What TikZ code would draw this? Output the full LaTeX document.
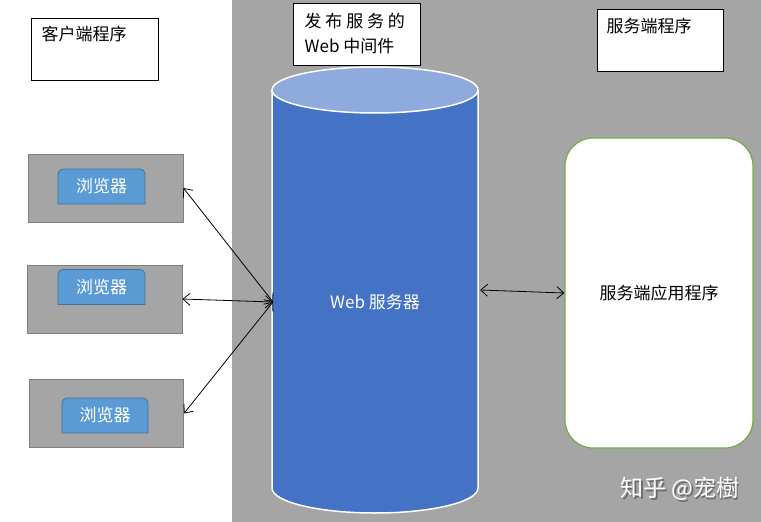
\documentclass[tikz,border=0pt]{standalone}
\usepackage{fontspec}
\setmainfont{Noto Sans CJK SC}
\usepackage{xcolor}
\usetikzlibrary{arrows.meta,positioning,calc}
\definecolor{bggray}{HTML}{A5A5A5}
\definecolor{boxedge}{HTML}{7F7F7F}
\definecolor{cylblue}{HTML}{4472C4}
\definecolor{cyltop}{HTML}{8FAADC}
\definecolor{brblue}{HTML}{5B9BD5}
\definecolor{bredge}{HTML}{41719C}
\definecolor{appgreen}{HTML}{70AD47}
\definecolor{wmshade}{HTML}{6A6A6A}
\tikzset{>={Straight Barb[length=7pt,width=12pt]}}
\tikzset{
  lbl/.style={inner sep=0pt, font=\fontsize{17}{25}\selectfont},
  labelbox/.style={draw=black, fill=white, line width=1pt, minimum width=127pt, minimum height=62pt, inner sep=0pt},
  pcbox/.style={draw=boxedge, fill=bggray, line width=0.8pt, minimum width=155pt, minimum height=68pt, inner sep=0pt},
  brshape/.style={draw=bredge, fill=brblue, line width=0.8pt},
  appbox/.style={lbl, draw=appgreen, fill=white, line width=1.2pt, rounded corners=28pt, minimum width=188pt, minimum height=310pt},
  wmtext/.style={inner sep=0pt, font=\fontsize{23}{27}\selectfont},
  link/.style={<->, line width=0.8pt},
}

\begin{document}
\begin{tikzpicture}[x=1pt,y=1pt]
  \useasboundingbox (0,0) rectangle (761,-522);
  % Background
  \fill[bggray] (232,0) rectangle (761,-522);

  % Titles
  \node[labelbox] (client) at (94.5,-49) {};
  \node[lbl, anchor=west] (clienttxt) at ([shift={(11,-17)}]client.north west) {客户端程序};
  \node[labelbox] (midbox) at (356.5,-34) {};
  \node[lbl, anchor=west, align=left] (midtxt) at ([xshift=12]midbox.west) {发 布 服 务 的\\Web 中间件};
  \node[labelbox, minimum width=126pt] (server) at (660,-40) {};
  \node[lbl, anchor=west] (servertxt) at ([shift={(10,-18)}]server.north west) {服务端程序};

  % Cylinder
  \fill[cylblue] (272,-90) rectangle (478,-488);
  \fill[cylblue] (375,-488) ellipse (103 and 25);
  \draw[white, line width=1.5pt] (272,-90) -- (272,-488) arc[start angle=180, end angle=360, x radius=103, y radius=25] -- (478,-90);
  \draw[white, line width=1.5pt, fill=cyltop] (375,-90) ellipse (103 and 23);
  \node[lbl, text=white] (websrv) at (375,-302) {Web 服务器};
  \coordinate (hub) at (273,-302);
  \coordinate (webport) at (480,-290);

  % Browsers
  \foreach \i/\cx/\cy/\bx/\by/\w in {1/105.5/-188/101.5/-186.5/87, 2/104.5/-299/101.5/-287/87, 3/106.5/-413.5/105/-415.5/86} {
    \node[pcbox, minimum width=\w pt+68pt] (pc\i) at (\cx,\cy) {};
    \draw[brshape] (\bx-\w/2,\by-17.5) -- (\bx-\w/2,\by+12.5) arc[start angle=180, end angle=90, radius=5] -- (\bx+\w/2-5,\by+17.5) arc[start angle=90, end angle=0, radius=5] -- (\bx+\w/2,\by-17.5) -- cycle;
    \node[lbl, text=white] (br\i) at (\bx,\by) {浏览器};
  }

  % Server application
  \node[appbox] (app) at (659,-293) {服务端应用程序};

  % Links
  \draw[link] (pc1.east) -- (hub);
  \draw[link] (pc2.east) -- (hub);
  \draw[link] (pc3.east) -- (hub);
  \draw[link] (webport) -- (app.west);

  % Watermark
  \node[wmtext, text=wmshade] (wmshadow) at (681.5,-490.5) {知乎 @宠樹};
  \node[wmtext, text=white] (wm) at (680,-489) {知乎 @宠樹};
\end{tikzpicture}
\end{document}
